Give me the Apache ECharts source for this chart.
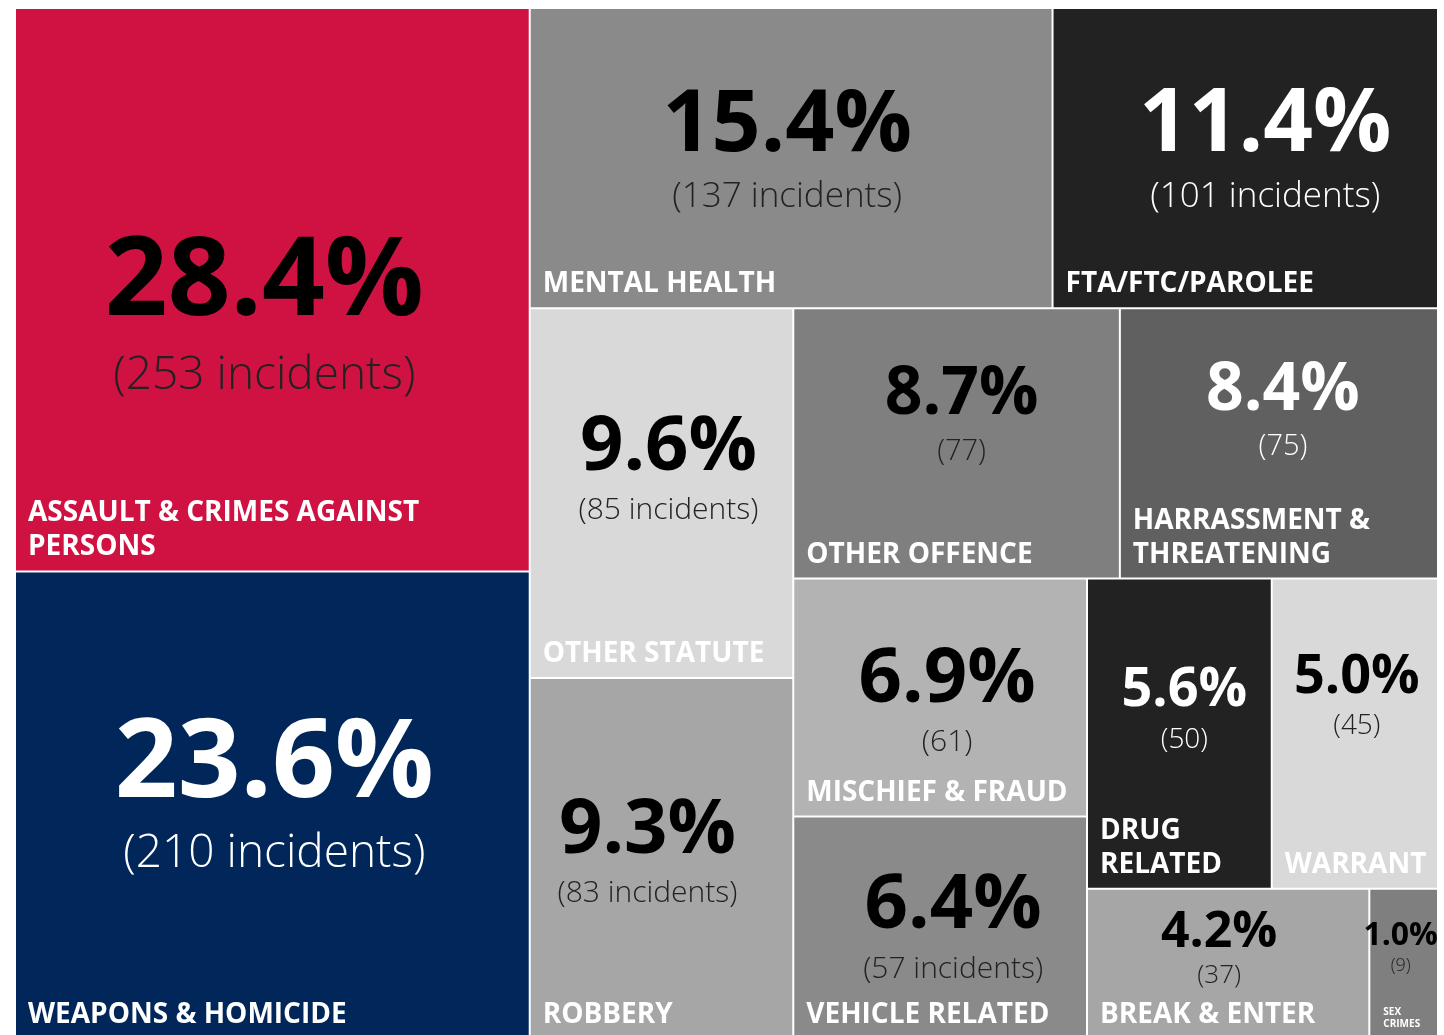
<!DOCTYPE html>
<html lang="en">
	<head>
		<meta charset="UTF-8" />
		<title>Incident Treemap</title>
		<script src="https://cdn.jsdelivr.net/npm/echarts@6/dist/echarts.min.js"></script>
		<style>
			html, body { margin: 0; padding: 0; background: #fff; overflow: hidden; }
		</style>
	</head>
	<body>
		<div id="myChart" style="width: 1444px; height: 1035px"></div>

		<script>
			// data
			const categories = [
				"ASSAULT & CRIMES AGAINST\nPERSONS",
				"WEAPONS & HOMICIDE",
				"MENTAL HEALTH",
				"FTA/FTC/PAROLEE",
				"OTHER STATUTE",
				"ROBBERY",
				"OTHER OFFENCE",
				"HARRASSMENT &\nTHREATENING",
				"MISCHIEF & FRAUD",
				"VEHICLE RELATED",
				"DRUG\nRELATED",
				"WARRANT",
				"BREAK & ENTER",
				"SEX\nCRIMES",
			];
			const incidents = [253, 210, 137, 101, 85, 83, 77, 75, 61, 57, 50, 45, 37, 9];
			const percents = ["28.4%", "23.6%", "15.4%", "11.4%", "9.6%", "9.3%", "8.7%", "8.4%", "6.9%", "6.4%", "5.6%", "5.0%", "4.2%", "1.0%"];
			const showWord = [true, true, true, true, true, true, false, false, false, true, false, false, false, false];

			// styles
			const cellColors = ["#CF1242", "#00265A", "#8A8A8A", "#222222", "#D9D9D9", "#A6A6A6", "#7F7F7F", "#606060", "#B3B3B3", "#8A8A8A", "#222222", "#D9D9D9", "#A6A6A6", "#7F7F7F"];
			const darkCell = [false, true, false, true, false, false, false, true, false, false, true, false, false, false];
			const pctSize = [110, 110, 86, 87, 76, 76, 66, 66, 76, 76, 54, 54, 50, 32];
			const cntSize = [46, 46, 35, 35, 30, 30, 29, 29, 30, 30, 28, 28, 26, 18];
			const nameSize = [28, 28, 28, 28, 28, 28, 28, 28, 28, 28, 28, 28, 28, 10];
			const textDx = [-8, 2, -4, 20, 7, -14, 5, 4, 7, 13, 5, 2, -9, -3];
			const pctDy = [-6, -40, -32, -32, -45, -27, -48, -52, -17, -21, -43, -56, -31, -28];
			const cntDy = [86, 49, 39, 39, 17, 35, 8, 3, 45, 42, 6, -8, 12, 2];

			const FONT = "'Open Sans', 'Noto Sans', sans-serif";

			const pctData = categories.map((name, i) => ({
				name: name,
				value: incidents[i],
				itemStyle: { color: cellColors[i] },
				label: {
					formatter: percents[i],
					fontSize: pctSize[i],
					color: darkCell[i] ? "#fff" : "#000",
					offset: [textDx[i], pctDy[i]],
				},
			}));

			const cntData = categories.map((name, i) => ({
				name: name,
				value: incidents[i],
				itemStyle: { color: "rgba(0,0,0,0)" },
				label: {
					formatter: "(" + incidents[i] + (showWord[i] ? " incidents" : "") + ")",
					fontSize: cntSize[i],
					color: darkCell[i] ? "#fff" : "#222",
					offset: [textDx[i], cntDy[i]],
				},
			}));

			const nameData = categories.map((name, i) => ({
				name: name,
				value: incidents[i],
				itemStyle: { color: "rgba(0,0,0,0)" },
				label: {
					fontSize: nameSize[i],
					lineHeight: Math.round(nameSize[i] * 1.22),
					distance: i === 13 ? 5 : 10,
					offset: i === 13 ? [3, 2] : [-3, 9],
				},
			}));

			const chartContainer = document.getElementById("myChart");
			const myChart = echarts.init(chartContainer);

			function layer(data, label, silent) {
				return {
					type: "treemap",
					left: 16,
					top: 9,
					right: 7,
					bottom: -3,
					roam: false,
					nodeClick: false,
					silent: silent,
					squareRatio: 0.96,
					breadcrumb: { show: false },
					animation: false,
					levels: [{ itemStyle: { gapWidth: 2, borderWidth: 0 } }],
					itemStyle: { borderWidth: 0 },
					label: Object.assign({ show: true, overflow: "none", fontFamily: FONT }, label),
					data: data,
				};
			}

			const option = {
				series: [
					layer(pctData, { position: "inside", fontWeight: "bold" }, false),
					layer(cntData, { position: "inside", fontWeight: 300 }, true),
					layer(nameData, { position: "insideBottomLeft", fontWeight: "bold", color: "#fff", formatter: "{b}" }, true),
				],
			};

			myChart.setOption(option);
		</script>
	</body>
</html>
